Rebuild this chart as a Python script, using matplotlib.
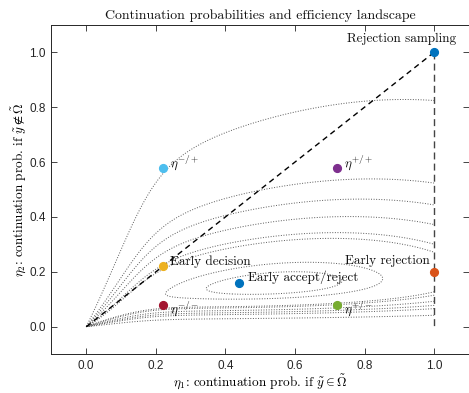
import numpy as np
import matplotlib
matplotlib.use("Agg")
import matplotlib.pyplot as plt

plt.rcParams["mathtext.fontset"] = "cm"

# Named operating points in the (eta1, eta2) plane
point_names = ["Rejection sampling", "Early rejection", "Early decision",
               "Early accept/reject", r"$\eta^{-/-}$", r"$\eta^{+/-}$",
               r"$\eta^{-/+}$", r"$\eta^{+/+}$"]
eta1 = [1.00, 1.00, 0.22, 0.44, 0.22, 0.72, 0.22, 0.72]
eta2 = [1.00, 0.20, 0.22, 0.16, 0.08, 0.08, 0.58, 0.58]
point_colors = ["#0072BD", "#D95319", "#EDB120", "#0072BD",
                "#A2142F", "#77AC30", "#4DBEEE", "#7E2F8E"]

# Contour levels of the efficiency landscape (distance from the optimum)
contour_levels = [0.25, 0.40, 0.70, 0.76, 0.91, 1.05, 1.19, 1.60]

tick_values = [0.0, 0.2, 0.4, 0.6, 0.8, 1.0]
tick_labels = ["0.0", "0.2", "0.4", "0.6", "0.8", "1.0"]

# label placement: (dx, dy) in pixels, ha, va
label_style = [
    (22, 7, "right", "bottom"),
    (-4, 5, "right", "bottom"),
    (7, 5, "left", "center"),
    (9, 6, "left", "center"),
    (7, -5, "left", "center"),
    (7, -5, "left", "center"),
    (7, 4, "left", "center"),
    (7, 4, "left", "center"),
]

fig = plt.figure(figsize=(4.69, 3.93), dpi=100)
ax = fig.add_axes([0.1095, 0.0985, 0.8905, 0.8385])

# efficiency landscape on the unit square
u = np.linspace(1e-3, 1.0, 700)
v = np.linspace(1e-3, 1.0, 700)
U, V = np.meshgrid(u, v)
X = U / 0.2045
scale = X / (1.0 + X ** 4) ** 0.25
W = V / scale
L0 = np.log(0.155) + 0.40 * (U - 0.54)
D = np.sqrt((np.log(W) - L0) ** 2 + ((U - 0.54) / 0.78) ** 2)
ax.contour(U, V, D, levels=contour_levels, colors="#5a5a5a",
           linewidths=0.7, linestyles=":")

# diagonal eta1 = eta2 and the eta1 = 1 edge
ax.plot([0, 1], [0, 1], color="k", lw=1.0, dashes=(4, 3), zorder=3)
ax.plot([1, 1], [1, 0], color="#444444", lw=1.0, dashes=(5, 3), zorder=3)

for x, y, c, name, (dx, dy, ha, va) in zip(eta1, eta2, point_colors,
                                            point_names, label_style):
    ax.plot(x, y, "o", ms=5.6, color=c, mec=c, zorder=5)
    is_math = name.startswith("$")
    ax.annotate(name, (x, y), xytext=(dx, dy), textcoords="offset pixels",
                ha=ha, va=va, fontsize=9.5,
                fontfamily="DejaVu Sans" if is_math else "cmr10",
                color="#111111", zorder=6)

ax.set_xlim(-0.1, 1.1)
ax.set_ylim(-0.1, 1.1)
ax.set_xticks(tick_values)
ax.set_xticklabels(tick_labels)
ax.set_yticks(tick_values)
ax.set_yticklabels(tick_labels)
for lab in ax.get_xticklabels() + ax.get_yticklabels():
    lab.set_fontfamily("Liberation Sans")
ax.tick_params(direction="in", top=True, right=True, length=4, width=0.6,
               colors="#262626", labelsize=8.5, pad=4)
for s in ax.spines.values():
    s.set_color("#262626")
    s.set_linewidth(0.7)

ax.set_title("Continuation probabilities and efficiency landscape",
             fontfamily="cmr10", fontsize=10, pad=4, color="#111111")
ax.set_xlabel(r"$\eta_1$: continuation prob. if $\tilde{y} \in \tilde{\Omega}$",
              fontfamily="cmr10", fontsize=9.5, labelpad=0)
ax.set_ylabel(r"$\eta_2$: continuation prob. if $\tilde{y} \notin \tilde{\Omega}$",
              fontfamily="cmr10", fontsize=9.5, labelpad=1)

fig.savefig("out.png", dpi=100)
